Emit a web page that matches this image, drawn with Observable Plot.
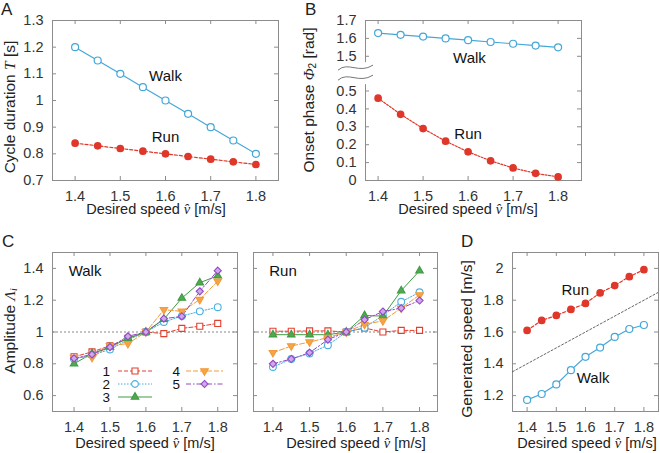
<!DOCTYPE html>
<html><head><meta charset="utf-8">
<script src="https://cdn.jsdelivr.net/npm/d3@7"></script>
<script src="https://cdn.jsdelivr.net/npm/@observablehq/plot@0.6"></script>
<style>
body{margin:0;background:#fff;}
#fig{position:relative;width:660px;height:453px;overflow:hidden;background:#fff;color:#222;font-family:"Liberation Sans Narrow","Liberation Sans",Arial,sans-serif;}
#fig svg{position:absolute;left:0;top:0;}
.lab{position:absolute;white-space:nowrap;font-size:14.5px;line-height:1;transform:translate(-50%,-50%);}
.ylab{position:absolute;white-space:nowrap;font-family:"Liberation Sans",Arial,sans-serif;font-size:15.5px;line-height:1.1;transform:translate(-50%,-50%) rotate(-90deg);}
.letter{position:absolute;font-family:"Liberation Sans",Arial,sans-serif;font-size:17px;line-height:1;}
.m{font-family:"Liberation Serif","DejaVu Serif",serif;font-style:italic;}
sub{font-size:0.65em;vertical-align:-0.25em;}
</style></head><body><div id="fig"></div>
<script>
// ---------- data ----------
const speeds = [1.4, 1.45, 1.5, 1.55, 1.6, 1.65, 1.7, 1.75, 1.8];
const speedTicks = [1.4, 1.5, 1.6, 1.7, 1.8];

const cycleWalk = [1.2, 1.15, 1.1, 1.05, 1.0, 0.95, 0.9, 0.85, 0.8];
const cycleRun  = [0.84, 0.83, 0.82, 0.81, 0.80, 0.79, 0.78, 0.77, 0.76];
const cycleTicks = [0.7, 0.8, 0.9, 1, 1.1, 1.2, 1.3];

const phaseWalk = [1.63, 1.62, 1.61, 1.60, 1.59, 1.58, 1.57, 1.56, 1.55];
const phaseRun  = [0.46, 0.37, 0.29, 0.22, 0.16, 0.11, 0.07, 0.04, 0.02];
const phaseTicks = [0, 0.1, 0.2, 0.3, 0.4, 0.5, 1.5, 1.6, 1.7];

const ampWalk1 = [0.844, 0.875, 0.913, 0.96, 1.0, 0.99, 1.023, 1.036, 1.054];
const ampWalk2 = [0.83, 0.855, 0.89, 0.95, 1.0, 1.063, 1.10, 1.13, 1.156];
const ampWalk3 = [0.80, 0.865, 0.905, 0.96, 1.0, 1.08, 1.213, 1.31, 1.354];
const ampWalk4 = [0.84, 0.84, 0.913, 0.927, 1.0, 1.14, 1.13, 1.204, 1.32];
const ampWalk5 = [0.834, 0.859, 0.905, 0.973, 1.0, 1.084, 1.098, 1.256, 1.386];

const ampRun1 = [1.005, 1.005, 1.007, 1.007, 1.0, 1.025, 1.0, 1.01, 1.01];
const ampRun2 = [0.78, 0.83, 0.865, 0.917, 1.0, 1.027, 1.104, 1.19, 1.25];
const ampRun3 = [0.983, 0.983, 0.983, 0.983, 1.0, 1.104, 1.10, 1.26, 1.385];
const ampRun4 = [0.87, 0.912, 0.937, 0.965, 1.0, 1.048, 1.07, 1.15, 1.233];
const ampRun5 = [0.80, 0.83, 0.87, 0.952, 1.0, 1.077, 1.129, 1.15, 1.198];
const ampTicks = [0.6, 0.8, 1, 1.2, 1.4];
const ampNames = ["1", "2", "3", "4", "5"];

const genRun  = [1.61, 1.673, 1.704, 1.742, 1.78, 1.846, 1.892, 1.948, 1.992];
const genWalk = [1.173, 1.21, 1.27, 1.36, 1.444, 1.502, 1.569, 1.619, 1.644];
const genTicks = [1.2, 1.4, 1.6, 1.8, 2];

const gaitNames = ["Walk", "Run"];

// ---------- styles ----------
const W = 660, H = 453;
const FRAME = "#8c8c8c";
const BLUE = "#45a7d8", RED = "#e0372b";
const FONT = "'Liberation Sans Narrow','Liberation Sans',Arial,sans-serif";
const ampStyle = [
  {color: "#e2402f", dash: "4,2",       symbol: "square",   fill: "white",   rotate: 0,   r: 3.4},
  {color: "#4bb0e0", dash: "1.5,1.5",   symbol: "circle",   fill: "white",   rotate: 0,   r: 3.4},
  {color: "#3f9c42", dash: null,        symbol: "triangle", fill: "#4fa852", rotate: 0,   r: 2.8},
  {color: "#f39a38", dash: "5,2",       symbol: "triangle", fill: "#f5a548", rotate: 180, r: 2.8},
  {color: "#9448c4", dash: "5,2,1.5,2", symbol: "diamond2", fill: "#cfa8ea", rotate: 0,   r: 3.2}
];
const fmt = d => String(d);
const TICK_FS = 14.5;

const rows = (arr) => speeds.map((s, i) => ({s, v: arr[i]}));

function panel({L, R, T, B, xDomain, y, yTicks, yLabelsAsText, marks}) {
  const fw = R - L, fh = B - T, tk = 4;
  const yLabels = yLabelsAsText
    ? Plot.text(yTicks, {y: d => d, text: fmt, frameAnchor: "left", textAnchor: "end", dx: -9, fontSize: TICK_FS, fill: "#333"})
    : Plot.axisY({ticks: yTicks, tickFormat: fmt, tickSize: 0, tickPadding: 9, label: null, fontSize: TICK_FS, fill: "#333"});
  return Plot.plot({
    width: W, height: H,
    marginLeft: L, marginRight: W - R, marginTop: T, marginBottom: H - B,
    style: {background: "transparent", fontFamily: FONT, fontSize: "14px", color: "#333", overflow: "visible"},
    x: {domain: xDomain},
    y: {...y, axis: null},
    marks: [
      Plot.frame({stroke: FRAME}),
      Plot.tickX(speedTicks, {x: d => d, insetTop: fh - tk, stroke: FRAME}),
      Plot.tickX(speedTicks, {x: d => d, insetBottom: fh - tk, stroke: FRAME}),
      Plot.tickY(yTicks, {y: d => d, insetRight: fw - tk, stroke: FRAME}),
      Plot.tickY(yTicks, {y: d => d, insetLeft: fw - tk, stroke: FRAME}),
      Plot.axisX({ticks: speedTicks, tickFormat: fmt, tickSize: 0, tickPadding: 10, label: null, fontSize: TICK_FS, fill: "#333"}),
      yLabels,
      ...marks
    ]
  });
}

function gaitMarks(walk, run, runDash) {
  return [
    Plot.line(rows(walk), {x: "s", y: "v", stroke: BLUE, strokeWidth: 1.2}),
    Plot.line(rows(run), {x: "s", y: "v", stroke: RED, strokeWidth: 1.2, strokeDasharray: runDash}),
    Plot.dot(rows(walk), {x: "s", y: "v", r: 3.5, stroke: BLUE, fill: "white", strokeWidth: 1.2}),
    Plot.dot(rows(run), {x: "s", y: "v", r: 3.1, fill: RED, stroke: RED})
  ];
}

function ampMarks(series) {
  const out = [Plot.ruleY([1], {stroke: "#888", strokeDasharray: "2,2", strokeWidth: 1})];
  series.forEach((arr, i) => {
    const st = ampStyle[i];
    out.push(Plot.line(rows(arr), {x: "s", y: "v", stroke: st.color, strokeWidth: 1, strokeDasharray: st.dash}));
  });
  series.forEach((arr, i) => {
    const st = ampStyle[i];
    out.push(Plot.dot(rows(arr), {x: "s", y: "v", r: st.r, symbol: st.symbol, rotate: st.rotate,
      stroke: st.color, fill: st.fill, strokeWidth: 1.1}));
  });
  return out;
}

const textOpts = {fontSize: 15, fill: "#111", fontFamily: FONT};

// ---------- panel A ----------
const plotA = panel({L: 52, R: 278, T: 20, B: 180, xDomain: [1.35, 1.85], y: {domain: [0.7, 1.3]}, yTicks: cycleTicks,
  marks: [
    ...gaitMarks(cycleWalk, cycleRun, "3,2"),
    Plot.text([gaitNames[0]], {x: 1.6, y: 1.09, text: d => d, ...textOpts}),
    Plot.text([gaitNames[1]], {x: 1.6, y: 0.861, text: d => d, ...textOpts})
  ]});

// ---------- panel B (broken axis: values above the break are shifted down by the scale transform) ----------
const BREAK_GAP = 0.806;
const breakTf = v => (v >= 1 ? v - BREAK_GAP : v);
const plotB = panel({L: 365, R: 581, T: 20, B: 180, xDomain: [1.372, 1.852],
  y: {domain: [0, 1.7 - BREAK_GAP], transform: breakTf}, yTicks: phaseTicks, yLabelsAsText: true,
  marks: [
    ...gaitMarks(phaseWalk, phaseRun, "2,1.5"),
    Plot.text([gaitNames[0]], {x: 1.603, y: 1.49, text: d => d, ...textOpts}),
    Plot.text([gaitNames[1]], {x: 1.6, y: 0.26, text: d => d, ...textOpts})
  ]});

// ---------- panel C walk / run ----------
const plotCw = panel({L: 52, R: 237, T: 252, B: 411, xDomain: [1.34, 1.855], y: {domain: [0.5, 1.5]}, yTicks: ampTicks,
  marks: [
    ...ampMarks([ampWalk1, ampWalk2, ampWalk3, ampWalk4, ampWalk5]),
    Plot.text([gaitNames[0]], {x: 1.385, y: 1.38, text: d => d, textAnchor: "start", ...textOpts})
  ]});
const plotCr = panel({L: 253, R: 437, T: 252, B: 411, xDomain: [1.347, 1.849], y: {domain: [0.5, 1.5]}, yTicks: ampTicks,
  marks: [
    ...ampMarks([ampRun1, ampRun2, ampRun3, ampRun4, ampRun5]),
    Plot.text([gaitNames[1]], {x: 1.39, y: 1.38, text: d => d, textAnchor: "start", ...textOpts})
  ]});
// the run sub-panel shares the y-axis labels of the walk sub-panel
plotCr.querySelectorAll("g[aria-label='y-axis tick label']").forEach(n => n.remove());

// ---------- panel D ----------
const dDomain = [1.35, 1.85];
const plotD = panel({L: 512, R: 658, T: 252, B: 411, xDomain: dDomain, y: {domain: [1.1, 2.1]}, yTicks: genTicks,
  marks: [
    Plot.line(dDomain, {x: d => d, y: d => d, stroke: "#555", strokeWidth: 0.9, strokeDasharray: "2,2", clip: true}),
    ...gaitMarks(genWalk, genRun, "3,2"),
    Plot.text([gaitNames[1]], {x: 1.565, y: 1.86, text: d => d, ...textOpts}),
    Plot.text([gaitNames[0]], {x: 1.626, y: 1.31, text: d => d, ...textOpts})
  ]});

const fig = document.getElementById("fig");
[plotA, plotB, plotCw, plotCr, plotD].forEach(p => fig.appendChild(p));

// ---------- axis break decoration in B ----------
{
  const top = 20, bottom = 180, span = 1.7 - BREAK_GAP;
  const px = v => bottom - (breakTf(v) / span) * (bottom - top);
  const ym = (px(0.5) + px(1.5)) / 2;
  const g = d3.select(plotB).append("g");
  g.append("rect").attr("x", 362).attr("y", ym - 11).attr("width", 6).attr("height", 22).attr("fill", "white");
  [-5, 5].forEach(off => {
    const y = ym + off, x0 = 338, x1 = 373;
    g.append("path")
      .attr("d", `M${x0},${y + 2}C${x0 + 10},${y - 7} ${x1 - 14},${y + 6} ${x1},${y - 3}`)
      .attr("fill", "none").attr("stroke", "#777").attr("stroke-width", 1);
  });
}

// ---------- legend in C (walk) ----------
{
  const g = d3.select(plotCw).append("g").attr("font-family", FONT).attr("font-size", 13.5).attr("fill", "#111");
  ampNames.forEach((name, i) => {
    const st = ampStyle[i];
    const col = i < 3 ? 0 : 1, row = i < 3 ? i : i - 3;
    const y = 371 + row * 13;
    const tx = [110, 180][col], lx0 = [118, 186][col], lx1 = [152, 223][col];
    const mx = (lx0 + lx1) / 2;
    g.append("text").attr("x", tx).attr("y", y).attr("dy", "0.36em").attr("text-anchor", "end").text(name);
    g.append("line").attr("x1", lx0).attr("x2", lx1).attr("y1", y).attr("y2", y)
      .attr("stroke", st.color).attr("stroke-dasharray", st.dash).attr("stroke-width", 1);
    const sym = {square: d3.symbolSquare, circle: d3.symbolCircle, triangle: d3.symbolTriangle, diamond2: d3.symbolDiamond2}[st.symbol];
    g.append("path").attr("d", d3.symbol(sym, Math.PI * st.r * st.r)())
      .attr("transform", `translate(${mx},${y}) rotate(${st.rotate})`)
      .attr("fill", st.fill).attr("stroke", st.color).attr("stroke-width", 1.1);
  });
}

// ---------- titles / labels ----------
const xl = 'Desired speed <span class="m">v&#770;</span> [m/s]';
const labels = [
  {c: "lab", x: 156, y: 209, h: xl},
  {c: "lab", x: 468, y: 209, h: xl},
  {c: "lab", x: 145, y: 443, h: xl},
  {c: "lab", x: 356, y: 443, h: xl},
  {c: "lab", x: 587, y: 443, h: xl},
  {c: "ylab", x: 10, y: 107, h: 'Cycle duration <span class="m">T</span> [s]'},
  {c: "ylab", x: 309, y: 100, h: 'Onset phase <span class="m">Φ</span><sub>2</sub> [rad]'},
  {c: "ylab", x: 10, y: 331, h: 'Amplitude <span class="m">Λ<sub>i</sub></span>'},
  {c: "ylab", x: 467, y: 339, h: 'Generated speed [m/s]'},
  {c: "letter", x: 1, y: 1, h: "A"},
  {c: "letter", x: 305, y: 1, h: "B"},
  {c: "letter", x: 2, y: 233, h: "C"},
  {c: "letter", x: 461, y: 233, h: "D"}
];
labels.forEach(l => {
  const d = document.createElement("div");
  d.className = l.c;
  d.style.left = l.x + "px";
  d.style.top = l.y + "px";
  d.innerHTML = l.h;
  fig.appendChild(d);
});
</script>
</body></html>
